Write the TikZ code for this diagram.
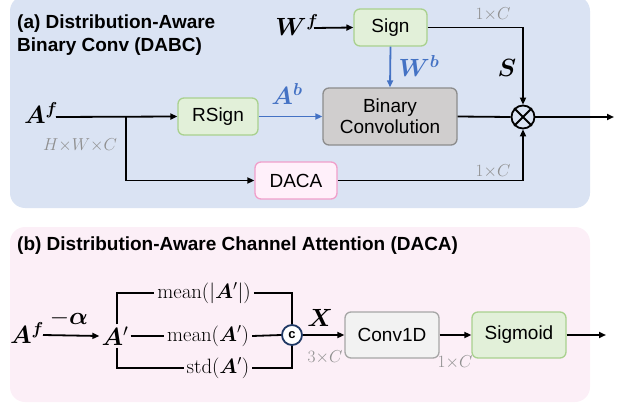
\documentclass[tikz,border=0pt]{standalone}
\usepackage{amsmath,bm}
\usepackage[no-math]{fontspec}
\setmainfont{Liberation Sans}
\usetikzlibrary{arrows.meta,calc}
\definecolor{bluebg}{HTML}{DAE3F3}
\definecolor{pinkbg}{HTML}{FCEFF7}
\definecolor{greenfill}{HTML}{E2F0D9}
\definecolor{greendraw}{HTML}{A9D18E}
\definecolor{grayfill}{HTML}{D0CECE}
\definecolor{graydraw}{HTML}{8C8C8C}
\definecolor{lightfill}{HTML}{F2F2F2}
\definecolor{lightdraw}{HTML}{A6A6A6}
\definecolor{pinkfill}{HTML}{FFF0FA}
\definecolor{pinkdraw}{HTML}{F19FCB}
\definecolor{arrowblue}{HTML}{4472C4}
\definecolor{labelgray}{HTML}{8F8F8F}
\definecolor{navy}{HTML}{1F3864}
\begin{document}
\begin{tikzpicture}[x=1pt,y=-1pt,
  boxbase/.style={rounded corners=6pt, line width=1.3pt, align=center,
    font=\fontsize{19}{21}\selectfont, inner sep=0pt},
  greenbox/.style={boxbase, fill=greenfill, draw=greendraw},
  graybox/.style={boxbase, fill=grayfill, draw=graydraw},
  lightbox/.style={boxbase, fill=lightfill, draw=lightdraw},
  pinkbox/.style={boxbase, fill=pinkfill, draw=pinkdraw},
  conn/.style={line width=1.8pt},
  arr/.style={conn, -{Triangle[length=7pt,width=6pt]}},
  barr/.style={line width=1.8pt, draw=arrowblue, -{Triangle[length=7pt,width=6pt]}},
  mathlab/.style={font=\fontsize{23}{25}\selectfont, inner sep=1pt},
  bluelab/.style={mathlab, text=arrowblue},
  dimlab/.style={font=\fontsize{17.5}{19}\selectfont, text=labelgray, inner sep=0pt},
  titlelab/.style={font=\fontsize{19}{23}\selectfont\bfseries, align=left, anchor=west, inner sep=0pt},
  serlab/.style={font=\fontsize{21}{23}\selectfont, inner sep=3pt}
]
\useasboundingbox (0,0) rectangle (624,404);
% panels
\fill[bluebg, rounded corners=15pt] (10,-4) rectangle (590,208);
\fill[pinkbg, rounded corners=15pt] (10,227) rectangle (590,402);

% ---------- panel (a) ----------
\node[titlelab] (ta) at (17,35) {(a) Distribution-Aware\\Binary Conv (DABC)};

\node[greenbox, minimum width=80pt, minimum height=37pt] (RSign) at (218,116.5) {RSign};
\node[graybox, minimum width=134pt, minimum height=57pt] (BC) at (390,116.5) {Binary\\Convolution};
\node[greenbox, minimum width=73pt, minimum height=37pt] (Sign) at (390.5,27.5) {Sign};
\node[pinkbox, minimum width=82pt, minimum height=37pt] (DACA) at (296,180.5) {DACA};
\node[circle, draw, line width=1.8pt, minimum size=23pt, inner sep=0pt, fill=bluebg] (ot) at (523,117) {};
\draw[line width=1.8pt] (ot.north east) -- (ot.south west) (ot.north west) -- (ot.south east);

\node[mathlab] (Af) at (41,113) {$\boldsymbol{A}^{\boldsymbol{f}}$};
\coordinate (afo) at (56,117);
\coordinate (br) at (126,117);
\node[dimlab] (hwc) at (80,145) {$H{\times}W{\times}C$};
\draw[arr] (afo) -- (RSign.west);
\draw[arr] (br) |- (DACA.west);

\draw[barr] (RSign.east) -- (BC.west);
\node[bluelab] (Ab) at (287,94) {$\boldsymbol{A}^{\boldsymbol{b}}$};

\node[mathlab] (Wf) at (297,25) {$\boldsymbol{W}^{\boldsymbol{f}}$};
\coordinate (wfo) at (314,28);
\draw[arr] (wfo) -- (Sign.west);

\draw[barr] (Sign.south) -- (BC.north);
\node[bluelab] (Wb) at (419,66) {$\boldsymbol{W}^{\boldsymbol{b}}$};

\draw[arr] (Sign.east) -| (ot.north);
\node[dimlab] (c1) at (493,14) {$1{\times}C$};
\node[mathlab] (S) at (507,68) {$\boldsymbol{S}$};

\draw[conn] (BC.east) -- (ot.west);
\coordinate (outa) at (614,117);
\draw[arr] (ot.east) -- (outa);

\draw[arr] (DACA.east) -| (ot.south);
\node[dimlab] (c2) at (493,171) {$1{\times}C$};

% ---------- panel (b) ----------
\node[titlelab] (tb) at (17,246) {(b) Distribution-Aware Channel Attention (DACA)};

\node[mathlab] (Af2) at (27,333) {$\boldsymbol{A}^{\boldsymbol{f}}$};
\coordinate (afo2) at (43,335);
\node[mathlab, inner sep=2pt] (Ap) at (115,336) {$\boldsymbol{A}'$};
\draw[arr] (afo2) -- (Ap.west);
\node[mathlab] (alpha) at (69,318) {$-\boldsymbol{\alpha}$};

\node[serlab] (m1) at (204,293) {$\mathrm{mean}(|\boldsymbol{A}'|)$};
\node[serlab] (m2) at (208,336) {$\mathrm{mean}(\boldsymbol{A}')$};
\node[serlab] (m3) at (218,368) {$\mathrm{std}(\boldsymbol{A}')$};

\coordinate (tl) at (117,293);
\coordinate (bl) at (117,368);
\coordinate (tr) at (292,293);
\coordinate (brr) at (292,368);
\node[circle, draw=navy, line width=1.8pt, minimum size=20pt, inner sep=0pt, fill=white,
      font=\fontsize{13}{13}\selectfont\bfseries] (Cc) at (292,335) {c};

\draw[conn] (Ap.north -| tl) -- (tl) -- (m1.west);
\draw[conn] (Ap.south -| bl) -- (bl) -- (m3.west);
\draw[conn] (Ap.east) -- (m2.west);
\draw[conn] (m1.east) -- (tr) -- (Cc.north);
\draw[conn] (m3.east) -- (brr) -- (Cc.south);
\draw[conn] (m2.east) -- (Cc.west);

\node[lightbox, minimum width=94pt, minimum height=46pt] (Conv) at (392,335) {Conv1D};
\node[greenbox, minimum width=94pt, minimum height=46pt] (Sig) at (519,335) {Sigmoid};

\draw[arr] (Cc.east) -- (Conv.west);
\node[mathlab] (X) at (320,318) {$\boldsymbol{X}$};
\node[dimlab] (c3) at (325,357) {$3{\times}C$};
\draw[arr] (Conv.east) -- (Sig.west);
\node[dimlab] (c4) at (455,362) {$1{\times}C$};
\coordinate (outb) at (606,335);
\draw[arr] (Sig.east) -- (outb);
\end{tikzpicture}
\end{document}
